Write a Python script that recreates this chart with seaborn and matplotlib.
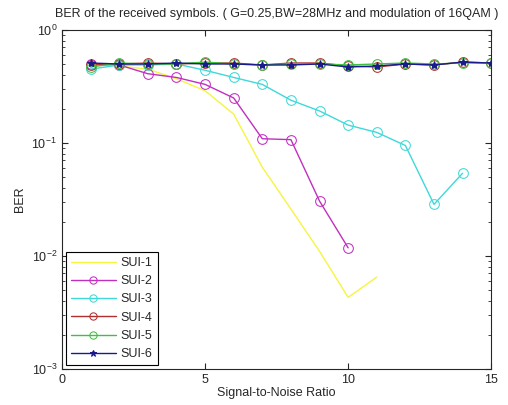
import numpy as np
import pandas as pd
import matplotlib
matplotlib.use("Agg")
import matplotlib.pyplot as plt
import seaborn as sns

snr = list(range(1, 16))

sui1 = [0.50, 0.48, 0.45, 0.37, 0.29, 0.18, 0.061, 0.026, 0.011, 0.0043, 0.0065]
sui2 = [0.50, 0.49, 0.41, 0.38, 0.33, 0.25, 0.109, 0.107, 0.0306, 0.0118]
sui3 = [0.45, 0.49, 0.49, 0.50, 0.44, 0.38, 0.33, 0.239, 0.192, 0.144, 0.124, 0.095, 0.0286, 0.054]
sui4 = [0.49, 0.50, 0.51, 0.50, 0.51, 0.51, 0.49, 0.51, 0.51, 0.48, 0.47, 0.50, 0.49, 0.52, 0.51]
sui5 = [0.47, 0.51, 0.50, 0.50, 0.52, 0.50, 0.49, 0.50, 0.50, 0.49, 0.50, 0.51, 0.50, 0.51, 0.51]
sui6 = [0.51, 0.50, 0.50, 0.51, 0.50, 0.50, 0.49, 0.49, 0.50, 0.47, 0.48, 0.50, 0.49, 0.52, 0.51]

names = ["SUI-1", "SUI-2", "SUI-3", "SUI-4", "SUI-5", "SUI-6"]
series = [sui1, sui2, sui3, sui4, sui5, sui6]
colors = ["#f5f540", "#c030c0", "#40d8d8", "#b03030", "#40c040", "#1a1a8c"]
markers = [None, "o", "o", "o", "o", "*"]

sns.set_style("ticks")
plt.rcParams["font.family"] = ["Liberation Sans", "DejaVu Sans"]
plt.rcParams["font.size"] = 9

fig = plt.figure(figsize=(5.08, 4.05), dpi=100)
ax = fig.add_axes([0.122, 0.089, 0.845, 0.837])

for name, vals, c, m in zip(names, series, colors, markers):
    df = pd.DataFrame({"SNR": snr[:len(vals)], "BER": vals})
    sns.lineplot(data=df, x="SNR", y="BER", ax=ax, color=c, marker=m,
                 markersize=7 if m == "o" else 6, markerfacecolor="none" if m == "o" else c,
                 markeredgecolor=c, linewidth=1.0, label=name)

ax.set_yscale("log")
ax.set_xlim(0, 15)
ax.set_ylim(1e-3, 1)
ax.set_xticks([0, 5, 10, 15])
ax.set_xticklabels(["0", "5", "10", "15"])
ax.tick_params(which="both", direction="in", top=True, right=True, labelsize=9)
ax.tick_params(which="major", length=4)
ax.tick_params(which="minor", length=2)
for s in ax.spines.values():
    s.set_linewidth(0.8)

ax.set_title("BER of the received symbols. ( G=0.25,BW=28MHz and modulation of 16QAM )", fontsize=9, pad=9)
ax.set_xlabel("Signal-to-Noise Ratio", fontsize=9, labelpad=1)
ax.set_ylabel("BER", fontsize=9)

leg = ax.legend(loc="lower left", fontsize=9, fancybox=False, framealpha=1,
                edgecolor="black", borderaxespad=0.3, handlelength=3.6, labelspacing=0.5,
                handletextpad=0.4, borderpad=0.4, markerscale=0.75)
leg.get_frame().set_linewidth(0.8)

fig.savefig("out.png", dpi=100)
